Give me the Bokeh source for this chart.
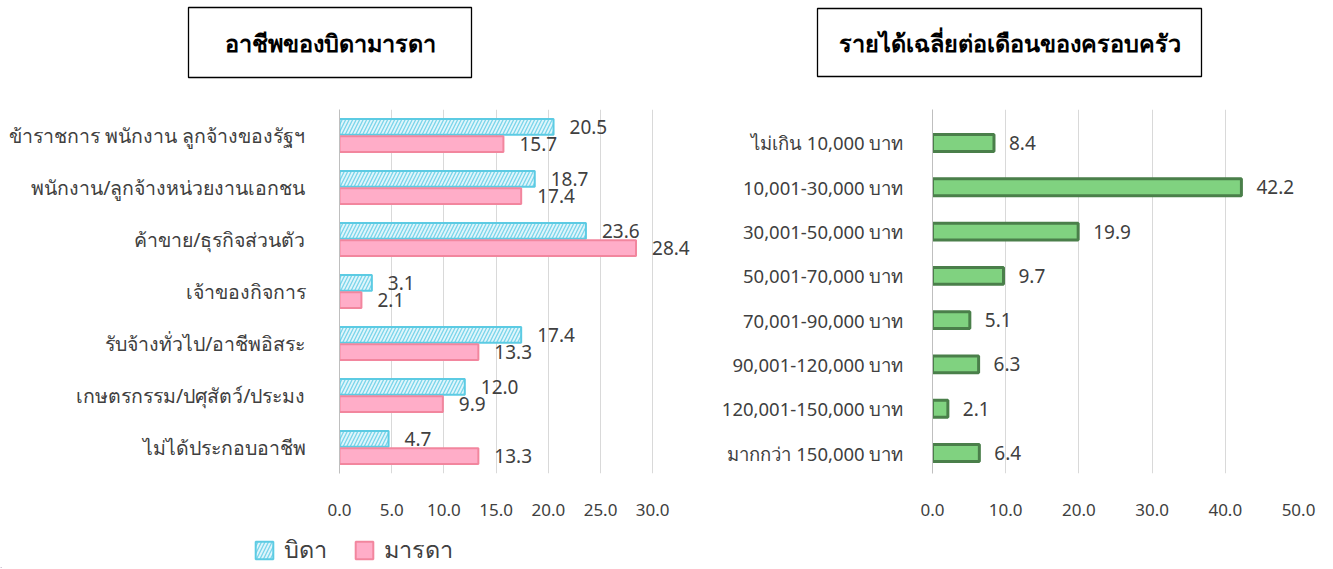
from bokeh.plotting import figure
from bokeh.models import (ColumnDataSource, FactorRange, Range1d, FixedTicker,
                          PrintfTickFormatter, LabelSet, Legend, LegendItem, Title)
from bokeh.transform import dodge
from bokeh.layouts import row, column
from bokeh.embed import file_html
from bokeh.resources import INLINE
from bokeh.core.properties import value

# ---------------- data ----------------
occupations = [
    "ข้าราชการ พนักงาน ลูกจ้างของรัฐฯ",
    "พนักงาน/ลูกจ้างหน่วยงานเอกชน",
    "ค้าขาย/ธุรกิจส่วนตัว",
    "เจ้าของกิจการ",
    "รับจ้างทั่วไป/อาชีพอิสระ",
    "เกษตรกรรม/ปศุสัตว์/ประมง",
    "ไม่ได้ประกอบอาชีพ",
]
father = [20.5, 18.7, 23.6, 3.1, 17.4, 12.0, 4.7]
mother = [15.7, 17.4, 28.4, 2.1, 13.3, 9.9, 13.3]

income_bands = [
    "ไม่เกิน 10,000 บาท",
    "10,001-30,000 บาท",
    "30,001-50,000 บาท",
    "50,001-70,000 บาท",
    "70,001-90,000 บาท",
    "90,001-120,000 บาท",
    "120,001-150,000 บาท",
    "มากกว่า 150,000 บาท",
]
income_pct = [8.4, 42.2, 19.9, 9.7, 5.1, 6.3, 2.1, 6.4]

left_ticks = [0, 5, 10, 15, 20, 25, 30]
right_ticks = [0, 10, 20, 30, 40, 50]

title_left = "อาชีพของบิดามารดา"
title_right = "รายได้เฉลี่ยต่อเดือนของครอบครัว"
series_names = ["บิดา", "มารดา"]

FONT = "Noto Sans"
TXT = "#404040"
GRID = "#d9d9d9"

FATHER_STYLE = dict(fill_color="#dff5fb", line_color="#5ccbe3", line_width=2,
                    hatch_pattern="/", hatch_color="#7ad5ea", hatch_scale=7,
                    hatch_weight=1.3)
MOTHER_STYLE = dict(fill_color="#ffadc8", line_color="#f2869e", line_width=2)

W1, W2 = 700, 625
MAIN_H, LEG_H = 530, 38
FRAME_TOP, FRAME_H = 109, 364


def style_axes(p, ticks, ylabel_size, ystandoff):
    p.outline_line_color = None
    p.xaxis.ticker = FixedTicker(ticks=ticks)
    p.xaxis.formatter = PrintfTickFormatter(format="%.1f")
    p.xaxis.axis_line_color = None
    p.xaxis.major_tick_line_color = None
    p.xaxis.minor_tick_line_color = None
    p.xaxis.major_label_standoff = 24
    p.xaxis.major_label_text_font = FONT
    p.xaxis.major_label_text_font_size = "17px"
    p.xaxis.major_label_text_color = TXT
    p.yaxis.axis_line_color = "#bfbfbf"
    p.yaxis.major_tick_line_color = None
    p.yaxis.minor_tick_line_color = None
    p.yaxis.major_label_standoff = ystandoff
    p.yaxis.major_label_text_font = FONT
    p.yaxis.major_label_text_font_size = ylabel_size
    p.yaxis.major_label_text_color = TXT
    p.xgrid.ticker = FixedTicker(ticks=ticks)
    p.xgrid.grid_line_color = GRID
    p.ygrid.grid_line_color = None


def add_boxed_title(p, text, offset, pad_x, pad_y, gap_bottom):
    # invisible spacer next to the frame, then the boxed title above it
    p.add_layout(Title(text=" ", text_font_size="1px", standoff=0,
                       padding=dict(left=0, right=0, top=15, bottom=gap_bottom)), "above")
    p.add_layout(Title(text=text, align="left", offset=offset, standoff=0,
                       text_font=FONT, text_font_size="23.5px", text_font_style="bold",
                       text_color="black", border_line_color="black",
                       border_line_width=1.3, background_fill_color="white",
                       padding=dict(left=pad_x, right=pad_x, top=pad_y, bottom=pad_y)),
                 "above")


# ---------------- left chart ----------------
src_l = ColumnDataSource(dict(
    occ=occupations, father=father, mother=mother,
    father_lbl=[f"{v:.1f}" for v in father],
    mother_lbl=[f"{v:.1f}" for v in mother],
))

p1 = figure(width=W1, height=MAIN_H, y_range=FactorRange(factors=occupations[::-1]),
            x_range=Range1d(0, 34), output_backend="svg", toolbar_location=None,
            title=None,
            min_border_left=339, min_border_right=6, min_border_top=FRAME_TOP,
            min_border_bottom=MAIN_H - FRAME_TOP - FRAME_H)
add_boxed_title(p1, title_left, 188 - 339, 36, 19, 14)

bh, off = 0.30, 0.165
p1.hbar(y=dodge("occ", off, range=p1.y_range), right="father", left=0, height=bh,
        source=src_l, **FATHER_STYLE)
p1.hbar(y=dodge("occ", -off, range=p1.y_range), right="mother", left=0, height=bh,
        source=src_l, **MOTHER_STYLE)

p1.add_layout(LabelSet(x="father", y=dodge("occ", off, range=p1.y_range), text="father_lbl",
                       source=src_l, x_offset=16, text_baseline="middle",
                       text_font=value(FONT), text_font_size="19px", text_color=TXT))
p1.add_layout(LabelSet(x="mother", y=dodge("occ", -off, range=p1.y_range), text="mother_lbl",
                       source=src_l, x_offset=16, text_baseline="middle",
                       text_font=value(FONT), text_font_size="19px", text_color=TXT))
style_axes(p1, left_ticks, "19.5px", 28)

# legend strip under the left chart (proxy glyphs lie outside the strip's range)
leg = figure(width=W1, height=LEG_H, x_range=Range1d(0, W1), y_range=Range1d(0, LEG_H),
             x_axis_location=None, y_axis_location=None, min_border=0,
             output_backend="svg", toolbar_location=None)
leg.outline_line_color = None
leg.xgrid.visible = False
leg.ygrid.visible = False
proxy = ColumnDataSource(dict(y=[-10 * LEG_H], right=[1]))
lr_f = leg.hbar(y="y", right="right", height=1, source=proxy, **FATHER_STYLE)
lr_m = leg.hbar(y="y", right="right", height=1, source=proxy, **MOTHER_STYLE)
legend = Legend(items=[LegendItem(label=series_names[0], renderers=[lr_f]),
                       LegendItem(label=series_names[1], renderers=[lr_m])],
                location=(253, 0), orientation="horizontal",
                glyph_width=22, glyph_height=22, label_standoff=9, spacing=26,
                padding=0, margin=0, border_line_color=None,
                background_fill_alpha=0,
                label_text_font=FONT, label_text_font_size="23.5px", label_text_color=TXT)
leg.add_layout(legend)

# ---------------- right chart ----------------
n = len(income_bands)
ypos = [n - 1 - i for i in range(n)]
src_r = ColumnDataSource(dict(y=ypos, band=income_bands, pct=income_pct,
                              lbl=[f"{v:.1f}" for v in income_pct]))

# rows 44.3 px apart in a 364 px frame; first row 33.5 px below the top
p2 = figure(width=W2, height=MAIN_H, y_range=Range1d(-20.5 / 44.3, n - 1 + 33.5 / 44.3),
            x_range=Range1d(0, 50), output_backend="svg", toolbar_location=None,
            title=None,
            min_border_left=232, min_border_right=27, min_border_top=FRAME_TOP,
            min_border_bottom=MAIN_H - FRAME_TOP - FRAME_H)
add_boxed_title(p2, title_right, 817 - 932, 21, 18, 15)

p2.hbar(y="y", right="pct", left=0, height=0.38, source=src_r,
        fill_color="#80d280", line_color="#4a7f4a", line_width=3)
p2.add_layout(LabelSet(x="pct", y="y", text="lbl", source=src_r, x_offset=15,
                       text_baseline="middle", text_font=value(FONT), text_font_size="19px",
                       text_color=TXT))
style_axes(p2, right_ticks, "18.5px", 23)
p2.yaxis.ticker = FixedTicker(ticks=ypos)
p2.yaxis.major_label_overrides = {y: b for y, b in zip(ypos, income_bands)}

layout = row(column(p1, row(leg)), column(p2))
open("out.html", "w").write(file_html(layout, INLINE))
